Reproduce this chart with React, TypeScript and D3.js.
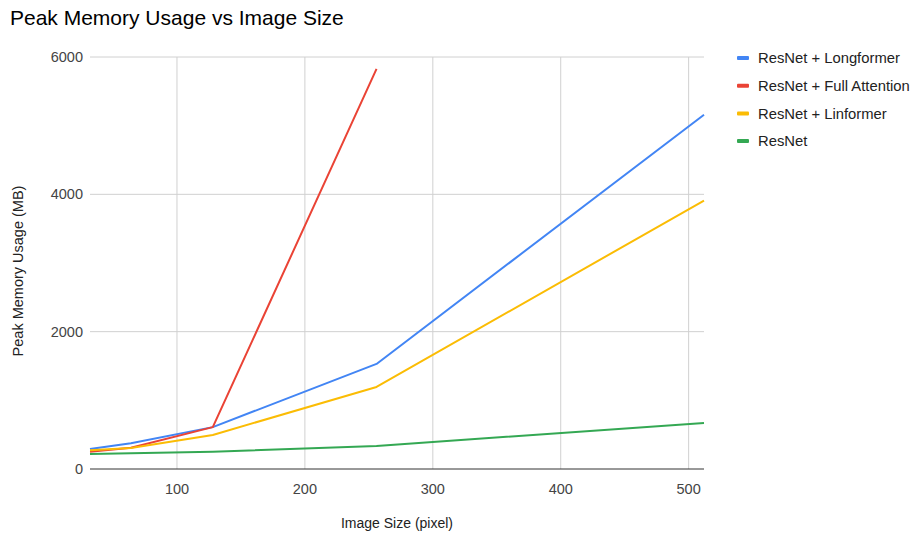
import { useMemo } from 'react';
import * as d3 from 'd3';

const imageSizes = [32, 64, 128, 256, 512];

const longformer = [290, 375, 610, 1530, 5160];
const fullAttention = [252, 310, 610, 5826];
const linformer = [272, 305, 495, 1195, 3910];
const resnet = [220, 228, 252, 335, 670];

const seriesNames = [
  'ResNet + Longformer',
  'ResNet + Full Attention',
  'ResNet + Linformer',
  'ResNet',
];
const seriesColors = ['#4285f4', '#ea4335', '#fbbc04', '#34a853'];

const xTicks = [100, 200, 300, 400, 500];
const yTicks = [0, 2000, 4000, 6000];

const W = 913;
const H = 535;
const M = { left: 90, right: 209, top: 57, bottom: 66 };
const FONT = '"Liberation Sans", Arial, sans-serif';

export default function App() {
  const x = useMemo(
    () => d3.scaleLinear().domain([32, 512]).range([M.left, W - M.right]),
    [],
  );
  const y = useMemo(
    () => d3.scaleLinear().domain([0, 6000]).range([H - M.bottom, M.top]),
    [],
  );

  const series = [longformer, fullAttention, linformer, resnet];
  const line = d3
    .line<number>()
    .x((_, i) => x(imageSizes[i]))
    .y((d) => y(d));

  return (
    <svg
      width={W}
      height={H}
      style={{ position: 'absolute', left: 0, top: 0, background: '#fff' }}
      fontFamily={FONT}
    >
      <text x={10} y={25} fontSize={21} fill="#000">
        Peak Memory Usage vs Image Size
      </text>

      {yTicks.map((t) => (
        <g key={t}>
          {t > 0 && (
            <line
              x1={M.left}
              x2={W - M.right}
              y1={y(t)}
              y2={y(t)}
              stroke="#d0d0d0"
              strokeWidth={1}
            />
          )}
          <text
            x={M.left - 7}
            y={y(t)}
            dy="0.35em"
            textAnchor="end"
            fontSize={14.5}
            fill="#444"
          >
            {t}
          </text>
        </g>
      ))}

      {xTicks.map((t) => (
        <g key={t}>
          <line
            x1={x(t)}
            x2={x(t)}
            y1={M.top}
            y2={H - M.bottom}
            stroke="#d0d0d0"
            strokeWidth={1}
          />
          <text
            x={x(t)}
            y={H - M.bottom + 25}
            textAnchor="middle"
            fontSize={14.5}
            fill="#444"
          >
            {t}
          </text>
        </g>
      ))}

      {series.map((s, i) => (
        <path
          key={seriesNames[i]}
          d={line(s) ?? ''}
          fill="none"
          stroke={seriesColors[i]}
          strokeWidth={2}
          strokeLinejoin="round"
        />
      ))}

      <line
        x1={M.left}
        x2={W - M.right}
        y1={y(0)}
        y2={y(0)}
        stroke="#333"
        strokeWidth={1}
      />

      <text
        x={397}
        y={528}
        textAnchor="middle"
        fontSize={14}
        fill="#222"
      >
        Image Size (pixel)
      </text>
      <text
        transform={`translate(23, ${(M.top + H - M.bottom) / 2 + 8}) rotate(-90)`}
        textAnchor="middle"
        fontSize={14.5}
        fill="#222"
      >
        Peak Memory Usage (MB)
      </text>

      {seriesNames.map((name, i) => {
        const ly = 58 + i * 27.7;
        return (
          <g key={name}>
            <rect
              x={737}
              y={ly - 2}
              width={12}
              height={4}
              rx={1}
              fill={seriesColors[i]}
            />
            <text x={758} y={ly} dy="0.35em" fontSize={14.8} fill="#222">
              {name}
            </text>
          </g>
        );
      })}
    </svg>
  );
}
